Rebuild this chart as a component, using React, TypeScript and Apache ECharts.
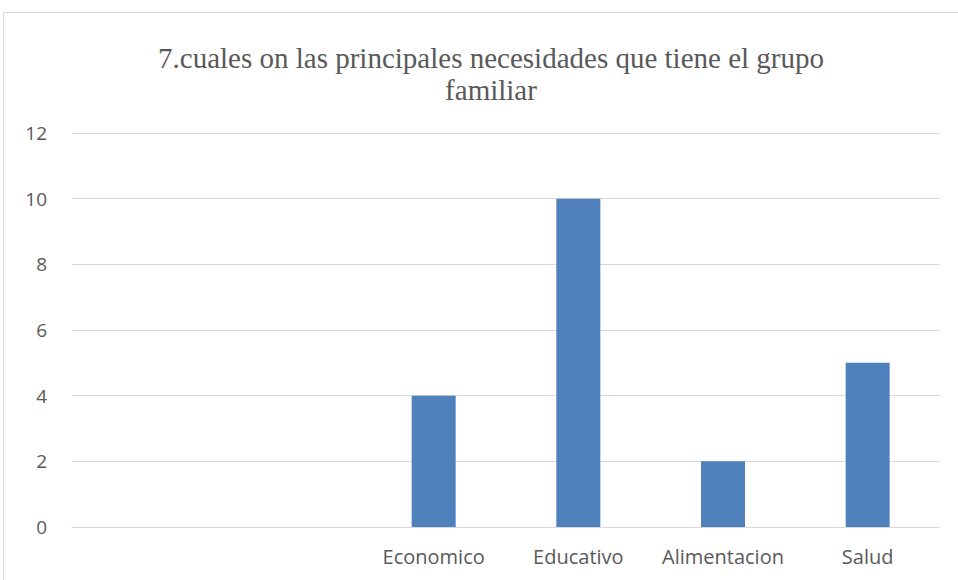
import React, { useEffect, useRef } from "react";
import * as echarts from "echarts";

const titleLines = ["7.cuales on las principales necesidades que tiene el grupo", "familiar"];
const categories = ["", "", "Economico", "Educativo", "Alimentacion", "Salud"];
const values: (number | null)[] = [null, null, 4, 10, 2, 5];
const yMin = 0;
const yMax = 12;
const yInterval = 2;

export default function App() {
  const ref = useRef<HTMLDivElement>(null);
  useEffect(() => {
    if (!ref.current) return;
    const chart = echarts.init(ref.current, null, { renderer: "svg" });
    chart.setOption({
      animation: false,
      backgroundColor: "#ffffff",
      title: {
        text: titleLines.join("\n"),
        left: 486,
        top: 37,
        textAlign: "center",
        textStyle: {
          fontFamily: "Liberation Serif",
          fontSize: 29,
          fontWeight: "normal",
          color: "#595959",
          lineHeight: 32,
        },
      },
      graphic: [
        {
          type: "rect",
          shape: { x: 3.5, y: 12.5, width: 1000, height: 1000 },
          style: { fill: "none", stroke: "#d9d9d9", lineWidth: 1 },
          silent: true,
          z: -1,
        },
      ],
      grid: { left: 72, right: 18, top: 133, bottom: 53, containLabel: false },
      xAxis: {
        type: "category",
        data: categories,
        axisLine: { lineStyle: { color: "#d9d9d9", width: 1 } },
        axisTick: { show: false },
        axisLabel: {
          color: "#595959",
          fontFamily: "Open Sans",
          fontSize: 20,
          margin: 19,
          interval: 0,
        },
      },
      yAxis: {
        type: "value",
        min: yMin,
        max: yMax,
        interval: yInterval,
        axisLine: { show: false },
        axisTick: { show: false },
        splitLine: { lineStyle: { color: "#d9d9d9", width: 1 } },
        axisLabel: {
          color: "#595959",
          fontFamily: "Open Sans",
          fontSize: 19,
          margin: 25,
        },
      },
      series: [
        {
          type: "bar",
          data: values,
          barWidth: 44,
          itemStyle: { color: "#4f81bd" },
        },
      ],
    });
    return () => chart.dispose();
  }, []);
  return (
    <div
      ref={ref}
      style={{ position: "fixed", left: 0, top: 0, width: 958, height: 580 }}
    />
  );
}
